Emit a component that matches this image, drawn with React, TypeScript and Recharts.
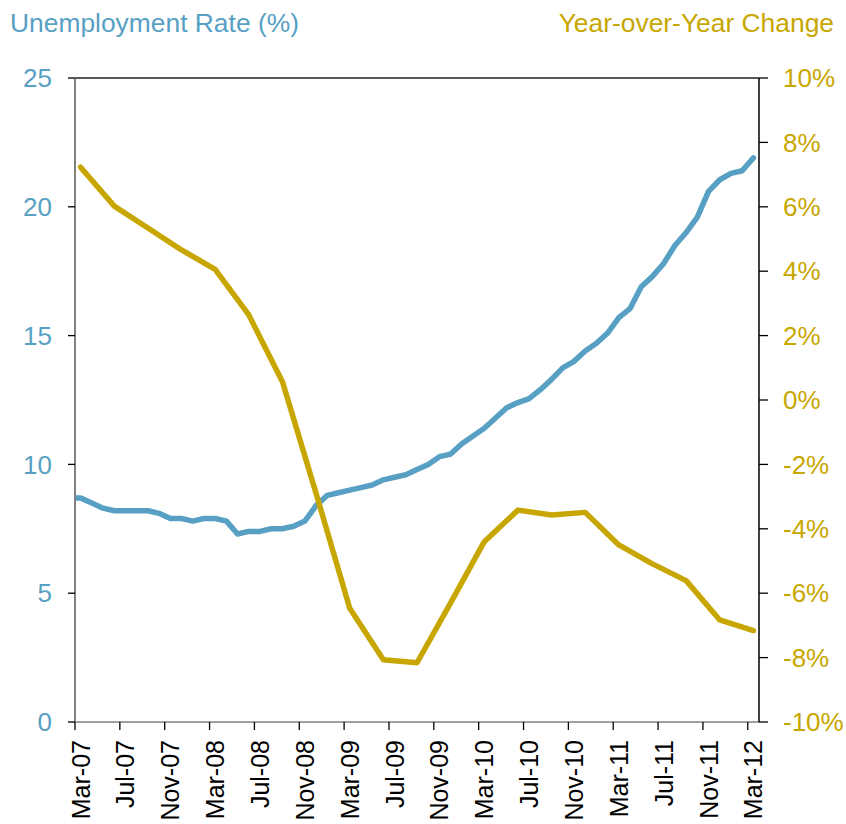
import React from 'react';
import { LineChart, Line, XAxis, YAxis, ReferenceLine } from 'recharts';

// Monthly unemployment rate (%), Feb-07 .. Mar-12 (Feb-07 lies left of the plot and is clipped)
const unemploymentStartIndex = -1;
const unemployment = [
  8.7, 8.7, 8.5, 8.3, 8.2, 8.2, 8.2, 8.2, 8.1, 7.9, 7.9,
  7.8, 7.9, 7.9, 7.8, 7.3, 7.4, 7.4, 7.5, 7.5, 7.6, 7.8, 8.4,
  8.8, 8.9, 9.0, 9.1, 9.2, 9.4, 9.5, 9.6, 9.8, 10.0, 10.3, 10.4,
  10.8, 11.1, 11.4, 11.8, 12.2, 12.4, 12.55, 12.9, 13.3, 13.75, 14.0, 14.4,
  14.7, 15.1, 15.7, 16.05, 16.9, 17.3, 17.8, 18.5, 19.0, 19.6, 20.6, 21.05,
  21.3, 21.4, 21.9,
];

// Year-over-year change (%), quarterly: Mar-07, Jun-07, ... Mar-12
const yoyStep = 3;
const yoyChange = [
  7.23, 6.02, 5.34, 4.66, 4.06, 2.64, 0.57, -2.9, -6.47, -8.07, -8.16,
  -6.3, -4.4, -3.42, -3.57, -3.49, -4.5, -5.09, -5.61, -6.83, -7.16,
];

const tickLabels = [
  'Mar-07', 'Jul-07', 'Nov-07', 'Mar-08', 'Jul-08', 'Nov-08', 'Mar-09', 'Jul-09',
  'Nov-09', 'Mar-10', 'Jul-10', 'Nov-10', 'Mar-11', 'Jul-11', 'Nov-11', 'Mar-12',
];
const tickStep = 4;
const monthCount = 61;
const leftTicks = [0, 5, 10, 15, 20, 25];
const rightTicks = [-10, -8, -6, -4, -2, 0, 2, 4, 6, 8, 10];

const unempData = unemployment.map((v, k) => ({ i: k + unemploymentStartIndex, u: v }));
const yoyData = yoyChange.map((v, k) => ({ i: k * yoyStep, y: v }));
const xTicks = tickLabels.map((_, k) => k * tickStep);

const W = 846;
const H = 824;
const LEFT_W = 75;
const RIGHT_W = 87;
const TOP = 78;
const X_H = 102;
const HALF_BAND = (W - LEFT_W - RIGHT_W) / monthCount / 2;

const BLUE = '#589FC4';
const GOLD = '#C8A600';
const FONT = '"Liberation Sans", Arial, sans-serif';

const XTick = (props: any) => {
  const { x, y, payload } = props;
  const label = tickLabels[Math.round(payload.value / tickStep)];
  const edge = x - HALF_BAND;
  return (
    <g>
      <line x1={edge} x2={edge} y1={y - 18} y2={y - 10} stroke="#000" strokeWidth={1.3} />
      <text
        x={x}
        y={y}
        transform={`rotate(-90 ${x} ${y})`}
        textAnchor="end"
        dy="0.36em"
        fill="#000"
        fontSize={25}
        fontFamily={FONT}
      >
        {label}
      </text>
    </g>
  );
};

export default function App() {
  return (
    <div style={{ position: 'absolute', left: 0, top: 0, width: W, height: H, background: '#fff', fontFamily: FONT }}>
      <div style={{ position: 'absolute', left: 10, top: 10, fontSize: 26.4, lineHeight: '26px', color: BLUE, whiteSpace: 'nowrap' }}>
        Unemployment Rate (%)
      </div>
      <div style={{ position: 'absolute', right: 12, top: 10, fontSize: 26.4, lineHeight: '26px', color: GOLD, whiteSpace: 'nowrap' }}>
        Year-over-Year Change
      </div>
      <LineChart width={W} height={H} margin={{ top: TOP, right: 0, bottom: 0, left: 0 }}>
        <XAxis
          type="number"
          dataKey="i"
          domain={[-0.5, monthCount - 0.5]}
          allowDataOverflow
          ticks={xTicks}
          interval={0}
          height={X_H}
          axisLine={{ stroke: '#808080', strokeWidth: 1.5 }}
          tickLine={false}
          tickSize={8}
          tickMargin={10}
          tick={<XTick />}
        />
        <YAxis
          yAxisId="l"
          orientation="left"
          width={LEFT_W}
          domain={[0, 25]}
          ticks={leftTicks}
          interval={0}
          axisLine={{ stroke: '#808080', strokeWidth: 2 }}
          tickLine={{ stroke: '#000', strokeWidth: 1.3 }}
          tickSize={7}
          tickMargin={16}
          tick={{ fill: BLUE, fontSize: 26, fontFamily: FONT }}
        />
        <YAxis
          yAxisId="r"
          orientation="right"
          width={RIGHT_W}
          domain={[-10, 10]}
          ticks={rightTicks}
          interval={0}
          axisLine={{ stroke: '#000', strokeWidth: 1.5 }}
          tickLine={{ stroke: '#000', strokeWidth: 1.3 }}
          tickSize={9}
          tickMargin={15}
          tickFormatter={(v: number) => `${v}%`}
          tick={{ fill: GOLD, fontSize: 26, fontFamily: FONT, textAnchor: 'start' }}
        />
        <ReferenceLine yAxisId="l" y={25} stroke="#222" strokeWidth={1.5} />
        <Line
          yAxisId="l"
          data={unempData}
          dataKey="u"
          stroke={BLUE}
          strokeWidth={5.5}
          dot={false}
          activeDot={false}
          strokeLinejoin="round"
          strokeLinecap="round"
          isAnimationActive={false}
        />
        <Line
          yAxisId="r"
          data={yoyData}
          dataKey="y"
          stroke={GOLD}
          strokeWidth={5.5}
          dot={false}
          activeDot={false}
          strokeLinejoin="round"
          strokeLinecap="round"
          isAnimationActive={false}
        />
      </LineChart>
    </div>
  );
}
